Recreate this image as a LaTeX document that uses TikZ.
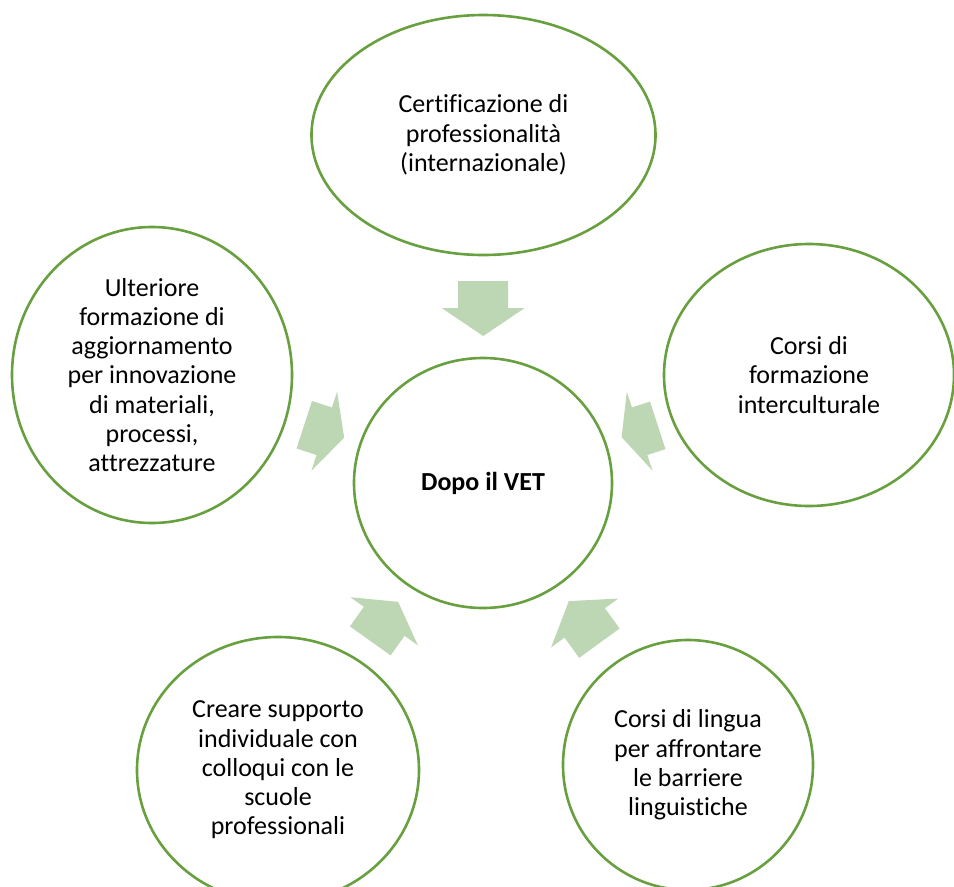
\documentclass[tikz,border=0pt]{standalone}
\usepackage{fontspec}
\setmainfont[Ligatures=NoCommon]{Carlito}
\usetikzlibrary{shapes.geometric,calc}
\definecolor{ringgreen}{RGB}{104,160,64}
\definecolor{arrowgreen}{RGB}{189,214,180}
\newcommand\blockarr[4]{%
  \fill[arrowgreen, shift={(#1)}, rotate=#2]
    (0,0) -- (-#4,41.5) -- (-#4,25) -- ({-#4-#3},25) -- ({-#4-#3},-25)
    -- (-#4,-25) -- (-#4,-41.5) -- cycle;}
\begin{document}
\begin{tikzpicture}[x=1pt,y=1pt,
  bubble/.style={draw=ringgreen, line width=2.6pt, ellipse, fill=white,
    inner sep=0pt, align=center, font=\fontsize{26}{29.3}\selectfont}]
\useasboundingbox (0,0) rectangle (954,-887);
\node[bubble, minimum width=258pt, minimum height=250pt] (c) at (483,-483) {\textbf{Dopo il VET}};
\node[bubble, minimum width=344pt, minimum height=240pt] (top) at (483.5,-135) {Certificazione di\\professionalità\\(internazionale)};
\node[bubble, minimum width=280pt, minimum height=296pt] (lft) at (152,-375) {Ulteriore\\formazione di\\aggiornamento\\per innovazione\\di materiali,\\processi,\\attrezzature};
\node[bubble, minimum width=290pt, minimum height=262pt] (rgt) at (809,-375) {Corsi di\\formazione\\interculturale};
\node[bubble, minimum width=282pt, minimum height=266pt] (bl) at (278,-770) {Creare supporto\\individuale con\\colloqui con le\\scuole\\professionali};
\node[bubble, minimum width=250pt, minimum height=250pt] (br) at (688,-765) {Corsi di lingua\\per affrontare\\le barriere\\linguistiche};
\coordinate (tTop) at ($(c.center)!147pt!(top.center)$);
\coordinate (tLft) at ($(c.center)!146pt!(lft.center)$);
\coordinate (tRgt) at ($(c.center)!146pt!(rgt.center)$);
\coordinate (tBl) at ($(c.center)!146pt!(bl.center)$);
\coordinate (tBr) at ($(c.center)!146pt!(br.center)$);
\blockarr{tTop}{-90}{27}{28}
\blockarr{tLft}{-18}{21}{21}
\blockarr{tRgt}{198}{19}{19}
\blockarr{tBl}{54.5}{24}{24}
\blockarr{tBr}{126}{25}{27}
\end{tikzpicture}
\end{document}
